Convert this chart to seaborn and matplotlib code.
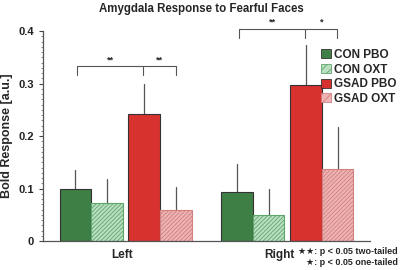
import numpy as np
import pandas as pd
import matplotlib
matplotlib.use('Agg')
import matplotlib.pyplot as plt
from matplotlib.ticker import MultipleLocator
from matplotlib.patches import Patch
from matplotlib.transforms import ScaledTranslation
import seaborn as sns

sides = ['Left', 'Right']
groups = ['CON PBO', 'CON OXT', 'GSAD PBO', 'GSAD OXT']
means = {
    'CON PBO': [0.100, 0.093],
    'CON OXT': [0.072, 0.050],
    'GSAD PBO': [0.242, 0.297],
    'GSAD OXT': [0.059, 0.137],
}
err_top = {
    'CON PBO': [0.135, 0.147],
    'CON OXT': [0.118, 0.099],
    'GSAD PBO': [0.299, 0.373],
    'GSAD OXT': [0.103, 0.217],
}
fills = {'CON PBO': '#3d7f45', 'CON OXT': '#b9dfc0', 'GSAD PBO': '#d8322f', 'GSAD OXT': '#eeb3b3'}
hatch_cols = {'CON PBO': None, 'CON OXT': '#5fa56e', 'GSAD PBO': None, 'GSAD OXT': '#d08080'}

rows = []
for g in groups:
    for i, s in enumerate(sides):
        rows.append({'side': s, 'group': g, 'value': means[g][i], 'top': err_top[g][i]})
df = pd.DataFrame(rows)

sns.set_style('ticks')
plt.rcParams['font.family'] = ['Liberation Sans', 'DejaVu Sans']
plt.rcParams['font.weight'] = 'bold'
plt.rcParams['hatch.linewidth'] = 0.6

fig = plt.figure(figsize=(4.02, 2.70), dpi=100)
ax = fig.add_axes([0.107, 0.107, 0.813, 0.778])

sns.barplot(data=df, x='side', y='value', hue='group', hue_order=groups,
            palette=fills, width=0.78, errorbar=None, saturation=1,
            edgecolor='#333333', linewidth=0.8, legend=False, ax=ax)

# bars come out hue by hue, each in order of side
k = 0
for g in groups:
    for i, s in enumerate(sides):
        p = ax.patches[k]
        k += 1
        shift = -0.018 if g.startswith('CON') else 0.018
        p.set_x(p.get_x() + shift)
        cx = p.get_x() + p.get_width() / 2
        if hatch_cols[g]:
            p.set_hatch('////////')
            try:
                p.set_hatchcolor(hatch_cols[g])
            except AttributeError:
                p.set_edgecolor(hatch_cols[g])
        ax.plot([cx, cx], [means[g][i], err_top[g][i]], color='#555555', lw=0.9, zorder=1)
        p.set_zorder(2)

ax.set_xlim(-0.51, 1.51)
ax.set_ylim(0, 0.4)
ax.yaxis.set_major_locator(MultipleLocator(0.1))
ax.yaxis.set_minor_locator(MultipleLocator(0.01))
ax.set_yticks([0, 0.1, 0.2, 0.3, 0.4])
ax.set_yticklabels(['0', '0.1', '0.2', '0.3', '0.4'])
ax.tick_params(axis='y', which='major', length=3, labelsize=8, width=0.8, colors='#444444', labelcolor='#222222')
ax.tick_params(axis='y', which='minor', length=1.5, width=0.6, colors='#777777')
ax.tick_params(axis='x', length=0, labelsize=8.5, pad=6)
for lab, dx in zip(ax.get_xticklabels(), [-3, -8]):
    lab.set_transform(lab.get_transform() + ScaledTranslation(dx / 100, 0, fig.dpi_scale_trans))
ax.set_xlabel('')
ax.set_ylabel('Bold Response [a.u.]', fontsize=9, fontweight='bold', labelpad=4)
sns.despine(ax=ax)
for sp in ['left', 'bottom']:
    ax.spines[sp].set_color('#555555')
    ax.spines[sp].set_linewidth(0.9)

fig.suptitle('Amygdala Response to Fearful Faces', fontsize=8.3, fontweight='bold', y=0.99)

# significance brackets
def bracket(x0, xm, x1, y, drop, labels):
    ax.plot([x0, x0, x1, x1], [y - drop, y, y, y - drop], color='#555555', lw=0.8, clip_on=False)
    ax.plot([xm, xm], [y, y - drop], color='#555555', lw=0.8, clip_on=False)
    ax.text((x0 + xm) / 2, y + 0.004, labels[0], ha='center', va='bottom', fontsize=6.5, clip_on=False)
    ax.text((xm + x1) / 2, y + 0.004, labels[1], ha='center', va='bottom', fontsize=6.5, clip_on=False)

bracket(-0.30, 0.11, 0.31, 0.333, 0.017, ['**', '**'])
bracket(0.70, 1.11, 1.31, 0.404, 0.017, ['**', '*'])

handles = []
for g in groups:
    if hatch_cols[g]:
        h = Patch(facecolor=fills[g], edgecolor=hatch_cols[g], hatch='////', linewidth=0.6)
    else:
        h = Patch(facecolor=fills[g], edgecolor='#333333', linewidth=0.6)
    handles.append(h)
fig.legend(handles, groups, loc='upper right', bbox_to_anchor=(1.005, 0.845), frameon=False,
           fontsize=8.5, handlelength=0.8, handleheight=0.8, handletextpad=0.3,
           labelspacing=0.22, borderaxespad=0.2)

fig.text(0.99, 0.067, '\u2605\u2605: p < 0.05 two-tailed', ha='right', va='center', fontsize=6.5)
fig.text(0.99, 0.026, '\u2605: p < 0.05 one-tailed', ha='right', va='center', fontsize=6.5)

fig.savefig('out.png', dpi=100)
